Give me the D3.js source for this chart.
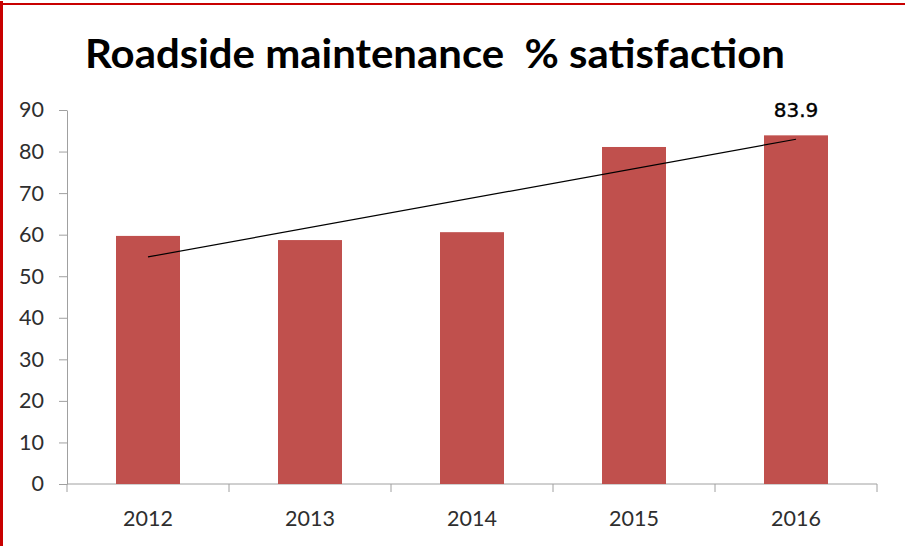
<!DOCTYPE html>
<html>
<head>
<meta charset="utf-8">
<script src="https://cdn.jsdelivr.net/npm/d3@7/dist/d3.min.js"></script>
<style>
  html, body { margin: 0; padding: 0; background: #fff; }
  svg { display: block; }
</style>
</head>
<body>
<svg id="chart" width="905" height="546"></svg>
<script>
// Roadside maintenance satisfaction by survey year
const years = ["2012", "2013", "2014", "2015", "2016"];
const satisfaction = [59.7, 58.7, 60.6, 81.1, 83.9];
const yTicks = [0, 10, 20, 30, 40, 50, 60, 70, 80, 90];
const labelledYear = "2016";
const titleText = "Roadside maintenance  % satisfaction";

const svg = d3.select("#chart");
const W = 905, H = 546;
const plot = { left: 67, right: 877, top: 110, bottom: 484 };

svg.append("rect").attr("width", W).attr("height", H).attr("fill", "#fff");

// frame edges
svg.append("rect").attr("x", 0).attr("y", 3).attr("width", W).attr("height", 2).attr("fill", "#c80000");
svg.append("rect").attr("x", 0).attr("y", 1).attr("width", 3).attr("height", H).attr("fill", "#c80000");

// title
svg.append("text")
  .attr("x", 85).attr("y", 68)
  .attr("font-family", "Lato, 'Open Sans', sans-serif")
  .attr("font-weight", "bold")
  .attr("font-size", 41)
  .attr("fill", "#000")
  .attr("textLength", 700)
  .attr("lengthAdjust", "spacingAndGlyphs")
  .style("white-space", "pre")
  .text(titleText);

const x = d3.scaleBand().domain(years).range([plot.left, plot.right]).padding(0);
const y = d3.scaleLinear().domain([0, 90]).range([plot.bottom, plot.top]);
const barW = x.bandwidth() * 0.395;

// y axis
const yAxis = svg.append("g")
  .attr("transform", `translate(${plot.left},0)`)
  .call(d3.axisLeft(y).tickValues(yTicks).tickSize(8).tickPadding(15).tickSizeOuter(0));
yAxis.select(".domain").attr("stroke", "#a0a0a0");
yAxis.selectAll(".tick line").attr("stroke", "#a0a0a0");
yAxis.selectAll(".tick text")
  .attr("font-family", "Lato, sans-serif")
  .attr("font-size", 21.5)
  .attr("fill", "#2e2e2e");

// x axis with ticks on category boundaries
const xAxisG = svg.append("g").attr("transform", `translate(0,${plot.bottom})`);
xAxisG.append("line")
  .attr("x1", plot.left).attr("x2", plot.right)
  .attr("y1", 0).attr("y2", 0)
  .attr("stroke", "#a0a0a0");
const bounds = years.map(d => x(d)).concat([x(years[years.length - 1]) + x.bandwidth()]);
xAxisG.selectAll("line.bt").data(bounds).enter().append("line")
  .attr("class", "bt")
  .attr("x1", d => d).attr("x2", d => d)
  .attr("y1", 0).attr("y2", 8)
  .attr("stroke", "#a0a0a0");
xAxisG.selectAll("text").data(years).enter().append("text")
  .attr("x", d => x(d) + x.bandwidth() / 2)
  .attr("y", 42)
  .attr("text-anchor", "middle")
  .attr("font-family", "Lato, sans-serif")
  .attr("font-size", 21.5)
  .attr("fill", "#2e2e2e")
  .text(d => d);

// bars
svg.append("g").selectAll("rect").data(years).enter().append("rect")
  .attr("x", d => x(d) + x.bandwidth() / 2 - barW / 2)
  .attr("y", (d, i) => y(satisfaction[i]))
  .attr("width", barW)
  .attr("height", (d, i) => y(0) - y(satisfaction[i]))
  .attr("fill", "#c0504d");

// linear trend line (least squares over the series)
const n = satisfaction.length;
const xs = d3.range(n);
const mx = d3.mean(xs), my = d3.mean(satisfaction);
const slope = d3.sum(xs, (v, i) => (v - mx) * (satisfaction[i] - my)) / d3.sum(xs, v => (v - mx) ** 2);
const intercept = my - slope * mx;
const trend = xs.map(i => [x(years[i]) + x.bandwidth() / 2, y(intercept + slope * i)]);
svg.append("path")
  .attr("d", d3.line()([trend[0], trend[n - 1]]))
  .attr("stroke", "#000")
  .attr("stroke-width", 1.2)
  .attr("fill", "none");

// value label
const li = years.indexOf(labelledYear);
svg.append("text")
  .attr("x", x(labelledYear) + x.bandwidth() / 2)
  .attr("y", y(satisfaction[li]) - 18)
  .attr("text-anchor", "middle")
  .attr("font-family", "'DejaVu Sans', sans-serif")
  .attr("font-size", 20)
  .attr("fill", "#000")
  .style("paint-order", "stroke")
  .attr("stroke", "#000")
  .attr("stroke-width", 0.4)
  .text(satisfaction[li].toFixed(1));
</script>
</body>
</html>
